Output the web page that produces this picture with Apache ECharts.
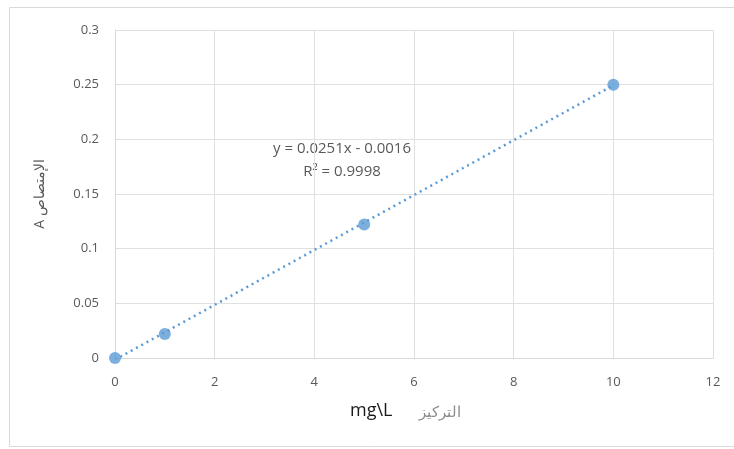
<!DOCTYPE html>
<html><head><meta charset="utf-8">
<script src="https://cdn.jsdelivr.net/npm/echarts@6/dist/echarts.min.js"></script>
<style>html,body{margin:0;padding:0;background:#fff}#c{width:734px;height:449px}</style>
</head><body><div id="c"></div>
<script>
const concentration = [0, 1, 5, 10];
const absorbance = [0, 0.022, 0.122, 0.25];
const trendX = [0, 10];
const trendY = [-0.0016, 0.2494];
const xTicks = [0, 2, 4, 6, 8, 10, 12];
const yTicks = [0, 0.05, 0.1, 0.15, 0.2, 0.25, 0.3];
const equationText = ['y = 0.0251x - 0.0016', 'R² = 0.9998'];

const chart = echarts.init(document.getElementById('c'));
const font = 'Open Sans, Liberation Sans, sans-serif';
chart.setOption({
  animation: false,
  graphic: [
    {type:'rect', shape:{x:9.5,y:7.5,width:740,height:439}, style:{fill:'none',stroke:'#d9d9d9',lineWidth:1}, silent:true},
    {type:'text', x:350, y:402, style:{text:'mg\\L', fill:'#1a1a1a', font:'18px ' + font}},
    {type:'text', x:419, y:405, style:{text:'التركيز', fill:'#8c8c8c', font:'15px ' + font}},
    {type:'text', x:342, y:137, style:{text:equationText.join('\n'), fill:'#595959', font:'15px ' + font, align:'center', textAlign:'center', lineHeight:23}}
  ],
  grid: {left:115, right:21, top:30, bottom:91},
  xAxis: {
    type:'value', min:xTicks[0], max:xTicks[xTicks.length-1], interval:2,
    axisLine:{show:true, lineStyle:{color:'#d9d9d9'}},
    axisTick:{show:false},
    axisLabel:{color:'#595959', fontSize:13, fontFamily:font, margin:18},
    splitLine:{show:true, lineStyle:{color:'#e0e0e0'}}
  },
  yAxis: {
    type:'value', min:yTicks[0], max:yTicks[yTicks.length-1], interval:0.05,
    name:'A الإمتصاص', nameLocation:'middle', nameGap:68, nameRotate:90, nameMoveOverlap:false,
    nameTextStyle:{color:'#595959', fontSize:14, fontFamily:font},
    axisLine:{show:true, lineStyle:{color:'#d9d9d9'}},
    axisTick:{show:false},
    axisLabel:{color:'#595959', fontSize:13, fontFamily:font, margin:16, formatter:v=>String(+v.toFixed(2))},
    splitLine:{show:true, lineStyle:{color:'#e0e0e0'}}
  },
  series: [
    {type:'line', data:trendX.map((x,i)=>[x,trendY[i]]), symbol:'none',
     lineStyle:{color:'#5b9bd5', width:2.5, type:[2,4]}, z:2},
    {type:'scatter', data:concentration.map((x,i)=>[x,absorbance[i]]), symbolSize:12,
     itemStyle:{color:'#5b9bd5'}, z:3}
  ]
});
</script></body></html>
